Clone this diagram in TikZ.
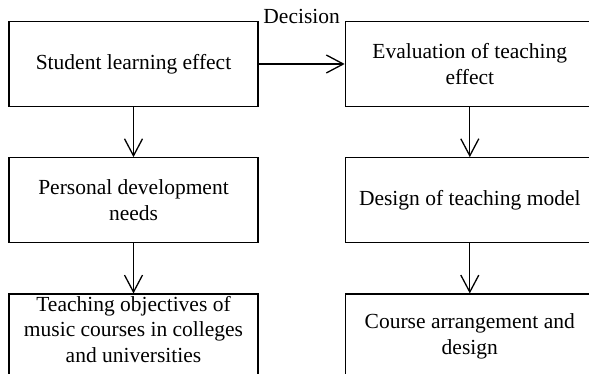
\documentclass[tikz,border=0pt]{standalone}
\usepackage{fontspec}
\setmainfont{Liberation Serif}
\usetikzlibrary{positioning,arrows.meta,calc}

\begin{document}
\begin{tikzpicture}[x=1pt,y=1pt,font=\fontsize{21.5}{25.5}\selectfont,node distance=50pt,
  b/.style={draw,line width=1.3pt,minimum width=249pt,minimum height=85pt,align=center,inner sep=2pt},
  arr/.style={-{Straight Barb[length=17pt,width=18pt]},line width=1.3pt}]
  \clip (0,0) rectangle (589,374);
  \node[b] (s1) at (133.5,310) {Student learning effect};
  \node[b,below=of s1] (s2) {Personal development\\needs};
  \node[b,below=of s2] (s3) {Teaching objectives of\\music courses in colleges\\and universities\\[-6pt]};
  \node[b,right=86pt of s1] (e1) {Evaluation of teaching\\effect};
  \node[b,below=of e1] (e2) {Design of teaching model};
  \node[b,below=of e2] (e3) {Course arrangement and\\design};
  \node[anchor=base] (dec) at ($(s1.north east)!0.5!(e1.north west)+(0,-3)$) {Decision};
  \draw[arr] (s1) -- (e1);
  \draw[arr] (s1) -- (s2); \draw[arr] (s2) -- (s3);
  \draw[arr] (e1) -- (e2); \draw[arr] (e2) -- (e3);
\end{tikzpicture}
\end{document}
